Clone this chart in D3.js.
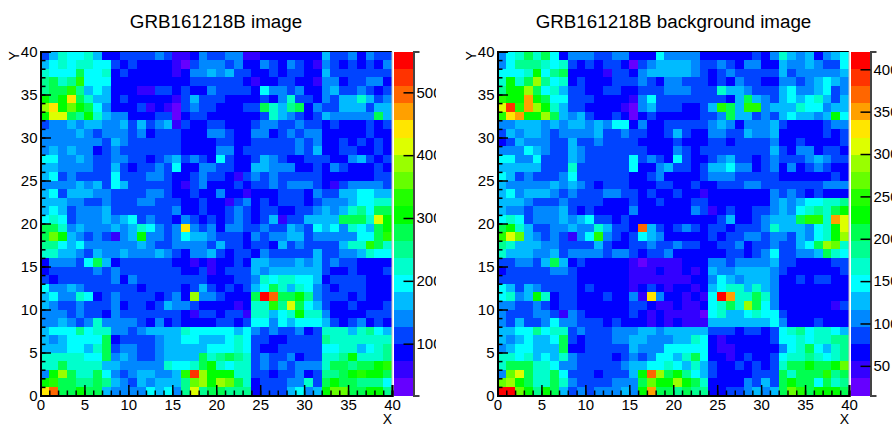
<!DOCTYPE html>
<html>
<head>
<meta charset="utf-8">
<script src="https://cdn.jsdelivr.net/npm/d3@7"></script>
<style>
  body { margin: 0; background: #fff; }
  svg { display: block; }
  text { font-family: "Liberation Sans", Arial, sans-serif; fill: #000; }
</style>
</head>
<body>
<div id="content"></div>
<script>
// counts per pixel, top row (Y bin 39) first
var imageRows = [
[113,168,223,195,195,223,168,86,86,113,113,113,113,141,113,59,59,86,141,113,113,141,141,59,59,86,86,86,86,86,86,86,168,113,113,141,86,141,113,113],
[168,195,223,195,223,223,195,195,113,86,113,86,86,86,86,59,31,113,141,141,141,113,141,86,86,141,113,86,141,113,86,59,141,113,86,113,86,113,86,141],
[223,195,195,195,278,195,195,223,86,113,86,86,86,86,86,59,86,141,141,168,141,168,113,113,86,86,113,86,113,113,86,86,168,113,113,113,113,113,113,113],
[250,278,223,250,332,195,195,195,86,86,86,86,86,86,86,86,86,113,113,113,113,113,113,86,59,86,86,113,113,86,86,59,141,141,86,113,113,141,141,86],
[250,278,278,332,250,168,195,168,86,86,86,59,59,113,113,86,113,86,86,141,113,113,113,113,86,195,141,141,113,141,86,86,141,168,113,113,141,113,86,113],
[305,278,305,442,278,223,168,168,86,113,86,86,86,86,86,59,113,168,113,113,113,86,86,86,86,113,86,141,223,113,113,86,141,113,168,168,223,168,113,141],
[387,442,305,360,305,278,195,141,86,86,86,113,59,86,59,31,113,141,113,113,86,86,86,113,113,278,223,168,250,278,86,141,113,113,168,168,168,113,168,168],
[305,415,415,278,250,305,223,168,141,141,86,86,86,113,113,31,86,113,113,86,86,86,86,86,86,113,223,168,141,113,86,113,168,141,141,141,141,141,278,168],
[113,141,141,168,141,168,168,141,141,168,113,168,113,141,168,59,113,86,86,113,113,86,86,86,113,141,141,113,113,141,113,113,86,113,86,86,86,113,86,113],
[141,141,141,141,168,141,113,141,141,141,113,141,86,113,113,113,86,86,86,141,141,113,86,86,141,141,86,113,141,113,141,141,86,86,86,86,86,113,86,86],
[141,141,141,141,141,141,141,113,168,141,113,113,113,113,113,113,86,86,86,86,113,113,86,86,113,113,113,113,113,141,113,141,86,86,113,86,113,86,113,86],
[141,168,141,168,141,141,86,113,141,113,113,113,113,113,113,113,86,86,86,86,141,141,86,113,113,113,113,113,113,141,113,168,86,86,113,113,86,86,113,86],
[195,195,141,141,168,141,113,113,141,141,113,113,86,113,141,168,113,141,113,86,195,113,86,86,113,168,141,113,86,86,113,113,113,86,86,141,168,113,86,113],
[168,168,141,141,141,141,113,113,168,113,86,113,113,141,113,195,86,86,141,141,113,113,86,86,168,168,141,141,141,86,86,113,86,141,113,86,86,86,113,86],
[168,195,113,141,113,113,113,113,195,113,113,113,141,141,113,86,86,113,141,113,113,86,59,113,141,113,141,113,113,113,113,113,86,86,86,86,86,86,113,113],
[141,141,141,141,168,141,168,113,195,168,113,113,113,113,113,86,59,113,141,86,86,86,113,86,113,113,141,113,141,141,141,113,86,59,113,141,141,141,141,113],
[168,195,113,168,168,168,141,141,113,113,113,113,141,141,113,86,86,113,86,86,141,86,86,59,86,86,86,113,113,113,86,141,113,113,168,168,195,195,168,168],
[168,168,168,141,141,113,113,141,113,113,113,141,141,113,113,113,86,86,113,86,86,59,113,141,86,113,86,113,113,113,86,113,141,141,141,168,195,195,223,223],
[168,195,168,113,141,141,141,168,113,113,113,113,113,113,113,141,86,86,113,86,86,113,141,113,86,113,113,86,86,113,113,141,168,141,168,223,250,195,278,278],
[195,223,195,113,141,141,141,168,141,168,195,113,141,113,113,86,141,113,86,113,86,113,141,113,86,113,168,59,113,113,168,168,168,168,278,278,278,223,415,305],
[278,278,223,141,168,141,141,141,168,141,168,223,195,141,113,141,442,141,113,141,86,141,141,113,113,141,113,113,168,141,113,195,168,195,141,223,195,168,278,305],
[278,360,305,168,141,113,141,113,59,141,168,305,141,141,113,141,195,168,168,141,113,113,113,86,141,113,141,141,168,168,113,141,141,141,141,141,195,195,278,332],
[250,250,195,168,195,141,141,141,141,141,141,168,141,113,113,141,141,141,141,113,168,113,113,86,113,113,86,168,113,141,113,113,113,113,168,223,223,332,278,223],
[223,223,168,168,141,113,168,141,141,168,141,141,141,168,141,113,86,141,141,168,113,86,113,113,86,141,113,113,113,113,113,168,113,113,141,141,168,223,195,195],
[86,141,141,141,113,195,278,168,86,113,113,113,113,113,113,86,86,59,86,59,86,86,113,86,168,168,141,141,141,168,141,168,113,141,113,113,86,86,86,86],
[86,113,113,113,113,113,141,113,141,113,113,113,113,113,113,113,86,86,113,59,86,113,113,113,168,141,168,168,168,168,168,168,113,86,86,113,86,86,86,113],
[113,86,113,113,113,113,113,113,141,86,141,113,113,113,113,113,113,113,113,86,86,86,113,113,141,223,195,223,223,195,195,168,86,113,113,113,113,86,86,86],
[195,141,141,168,141,113,113,113,113,113,113,86,113,113,113,113,86,113,168,113,86,113,86,113,168,195,278,223,168,223,195,141,113,86,113,113,113,86,86,86],
[168,195,141,141,223,195,86,113,141,113,113,113,113,86,113,141,86,387,141,141,113,86,86,86,278,552,497,278,278,305,250,141,113,113,113,86,113,86,86,86],
[168,141,113,113,141,113,113,113,141,86,113,113,86,113,168,141,141,113,86,86,86,86,59,86,223,223,332,250,415,278,195,168,113,86,86,113,86,86,86,113],
[141,141,141,113,141,113,113,86,141,113,113,113,113,113,113,113,86,59,113,113,86,113,113,59,223,223,168,195,223,305,223,223,141,86,86,86,86,113,113,113],
[141,141,168,141,113,141,223,141,141,141,141,113,86,141,86,113,86,86,86,86,113,113,86,113,195,195,141,195,168,195,195,195,168,113,86,113,141,86,113,86],
[168,195,195,195,250,195,223,223,141,141,113,141,168,168,168,168,223,195,195,195,195,195,168,195,141,113,141,113,113,141,86,113,223,223,223,168,223,250,195,168],
[168,141,168,195,195,195,195,278,86,113,113,113,113,141,168,168,195,195,168,168,168,195,223,195,113,113,86,86,113,113,113,113,250,223,223,223,223,223,223,223],
[168,168,168,195,195,168,223,278,113,141,141,113,113,141,168,168,168,168,168,195,195,195,223,195,113,86,86,113,113,113,113,113,195,195,223,223,168,195,223,250],
[223,223,223,223,223,195,195,278,141,168,141,113,113,141,168,168,168,168,278,223,250,278,250,223,113,141,113,113,141,86,113,113,223,223,250,305,223,223,223,250],
[223,223,278,223,223,223,223,168,168,141,141,141,141,141,223,195,195,223,278,305,223,195,223,223,113,141,113,141,113,141,141,141,223,278,278,250,278,278,305,332],
[141,305,387,278,223,223,278,195,141,113,141,168,168,141,141,168,332,524,387,305,305,305,223,223,113,113,86,113,113,141,86,113,250,250,278,305,332,305,305,278],
[305,332,278,278,250,250,278,250,168,141,113,168,141,168,168,168,250,360,387,305,387,360,278,223,86,113,113,113,141,141,223,113,278,305,278,278,250,250,250,195],
[442,497,278,278,305,278,278,168,141,141,141,141,195,168,195,141,250,415,250,278,278,250,250,250,86,113,113,113,168,195,141,168,305,360,360,278,278,305,305,250]
];

var backgroundRows = [
[106,147,167,208,167,208,147,66,106,106,106,86,86,106,106,66,66,66,147,106,106,106,106,66,66,66,66,66,66,86,66,106,167,127,106,127,66,106,127,147],
[106,147,188,188,188,167,147,167,86,66,86,66,86,86,66,25,86,106,127,127,127,127,106,86,86,106,86,66,106,106,66,66,127,106,106,127,106,86,86,147],
[147,147,147,167,228,147,188,208,66,66,66,66,46,86,86,66,106,127,127,127,127,127,106,86,66,86,106,86,86,86,86,86,127,86,106,106,106,106,106,127],
[167,228,167,208,289,188,147,167,66,86,66,66,66,86,86,86,106,86,66,106,106,86,86,86,66,86,66,106,86,86,66,66,106,106,86,106,127,147,127,106],
[188,228,228,289,208,147,167,127,86,86,66,66,86,86,66,66,86,86,86,106,106,106,86,86,86,167,127,127,106,86,86,86,127,147,106,106,127,147,86,106],
[248,228,228,350,228,208,147,147,86,86,86,66,66,66,66,46,106,147,86,86,86,86,86,86,86,86,66,127,208,127,106,86,127,147,127,147,167,127,86,127],
[309,391,248,350,289,228,167,127,86,86,66,66,66,66,46,25,106,127,86,86,86,66,66,86,127,248,208,127,248,248,106,127,127,127,167,147,147,106,127,127],
[248,330,350,228,228,289,208,127,106,127,86,66,66,86,66,25,66,86,66,66,66,66,66,86,86,106,208,127,127,86,106,86,127,147,127,127,106,127,228,147],
[106,106,127,127,127,106,127,106,127,127,106,127,106,147,147,66,106,66,66,86,86,86,86,86,106,127,106,66,106,106,106,127,86,66,66,66,66,86,106,106],
[86,127,106,127,127,106,86,106,106,106,106,127,86,86,106,86,86,66,66,86,127,86,66,66,106,106,86,86,127,106,106,127,66,66,66,66,66,86,66,86],
[66,86,127,106,106,106,86,86,127,86,86,106,86,86,86,86,66,66,66,66,86,66,66,66,86,86,66,86,86,86,86,106,66,66,86,66,66,66,66,86],
[106,106,106,147,127,106,86,86,127,106,86,86,86,86,86,86,86,66,66,66,106,86,66,86,86,86,86,86,86,86,86,127,86,66,106,106,66,86,86,66],
[147,147,106,106,147,86,86,86,127,106,86,86,86,86,86,147,86,106,86,66,147,86,66,66,86,106,127,86,86,66,86,106,86,86,86,106,127,106,86,86],
[127,127,127,127,127,86,86,86,167,86,86,86,86,86,86,147,66,66,106,127,86,86,66,86,127,127,147,106,106,66,86,106,66,106,66,86,106,86,66,66],
[147,127,86,106,86,86,86,106,147,86,86,86,86,86,86,66,66,86,106,66,66,66,66,86,106,106,106,86,86,86,86,86,66,66,66,66,66,66,86,66],
[127,106,106,106,106,106,127,106,127,106,86,66,86,86,86,66,66,66,86,86,66,66,86,66,66,86,86,86,106,106,86,86,86,86,86,86,86,106,106,106],
[127,147,106,127,127,127,106,86,106,86,86,86,106,106,86,86,66,86,66,66,86,66,66,46,66,66,66,66,66,66,66,106,86,106,86,66,86,66,66,66],
[127,127,127,106,86,86,86,106,86,86,86,86,66,66,66,86,66,66,86,66,66,66,86,86,66,66,66,66,66,66,66,106,127,106,127,147,147,167,167,188],
[127,106,106,86,106,106,106,127,86,66,86,66,66,66,66,106,66,66,66,66,66,66,106,86,46,66,86,66,66,86,86,106,127,106,147,167,188,167,208,228],
[147,167,147,86,106,106,106,127,106,127,147,86,86,66,86,66,66,66,66,66,66,66,66,66,66,86,127,66,66,86,106,127,127,127,208,248,248,167,350,309],
[208,228,167,127,86,86,106,106,127,106,106,167,127,86,86,66,370,127,86,66,86,106,86,66,86,86,66,86,86,86,106,167,127,127,127,106,147,167,228,309],
[248,309,269,127,106,86,106,86,46,106,147,248,106,86,66,86,147,127,106,66,66,66,66,66,86,66,86,86,106,106,86,106,106,86,127,106,147,167,228,289],
[188,167,127,127,127,106,106,86,86,86,86,127,86,66,66,86,86,106,86,86,106,86,86,66,66,86,86,106,66,86,86,106,86,86,127,147,208,289,269,167],
[167,127,127,127,106,106,127,86,106,106,106,106,86,106,106,86,66,86,86,106,66,66,66,66,66,66,86,86,66,86,106,147,86,86,106,106,127,208,167,147],
[86,86,106,106,86,127,208,127,66,86,66,66,66,66,66,46,25,46,46,46,46,66,66,66,106,106,86,106,106,106,106,127,86,86,66,66,66,66,86,86],
[66,86,86,86,86,86,106,106,86,66,66,66,66,66,66,46,46,46,66,46,46,66,46,66,127,106,106,127,127,127,127,106,86,66,66,66,66,66,66,86],
[86,86,86,86,86,86,86,86,86,66,66,66,66,66,66,46,46,46,46,46,46,46,66,66,106,147,127,106,127,127,127,106,66,66,86,66,86,86,66,66],
[147,127,86,127,106,86,86,86,86,66,86,66,66,66,66,46,66,86,66,46,66,66,46,66,127,147,167,167,127,167,127,106,66,66,66,66,66,66,66,66],
[147,167,106,127,228,167,66,86,86,66,66,66,86,66,66,106,46,330,106,66,66,46,66,46,147,411,350,167,167,208,167,106,66,66,66,66,66,66,66,66],
[106,106,86,86,106,86,66,86,86,66,66,66,66,66,66,86,86,66,46,46,66,46,46,66,147,167,208,167,289,208,147,106,66,66,66,66,66,66,46,86],
[106,86,86,86,106,106,86,46,106,86,66,66,66,66,66,86,66,46,66,46,46,46,46,25,147,167,127,127,147,167,147,147,86,66,66,66,66,66,66,66],
[106,86,127,86,86,106,147,106,106,86,86,86,66,86,66,66,66,46,66,46,66,46,46,46,127,127,127,127,127,127,127,147,106,66,66,66,86,66,66,66],
[127,127,147,147,188,147,167,167,86,106,86,86,86,106,106,106,127,127,106,127,127,127,127,127,86,86,86,66,86,86,66,86,147,167,188,147,167,167,147,127],
[127,106,127,147,127,127,147,208,86,66,86,86,86,106,106,127,127,106,106,106,127,127,167,147,66,46,66,66,66,66,66,86,147,147,167,147,167,167,188,188],
[106,127,147,147,127,127,127,208,66,66,86,86,86,86,86,127,106,106,106,147,147,147,147,147,66,46,46,66,66,66,66,66,106,147,167,208,147,127,167,188],
[167,167,147,167,127,147,127,167,106,86,86,86,86,66,86,106,86,106,147,147,127,167,208,147,66,66,46,66,86,66,66,86,147,167,167,188,167,147,167,188],
[167,208,208,208,167,167,147,106,106,86,86,86,86,86,106,127,127,147,147,167,147,127,167,127,86,66,66,86,66,86,66,86,167,208,208,228,208,208,228,269],
[106,269,309,208,167,167,208,147,86,86,86,66,86,86,86,127,228,370,289,208,228,188,147,127,86,66,66,66,66,86,86,86,208,167,208,208,208,248,188,208],
[269,289,228,208,167,167,208,167,106,86,86,86,86,106,106,106,208,269,228,228,289,228,208,167,66,66,66,66,106,86,127,86,208,228,208,208,147,208,167,188],
[411,411,269,228,188,228,208,127,86,106,86,106,106,106,127,106,228,350,208,208,188,208,188,188,66,66,86,86,106,127,106,127,208,269,248,208,228,228,228,208]
];

// colour bands of the palette, lowest first
var palette = ["#6600ff","#3300ff","#0000ff","#0044ff","#0088ff","#00bbff","#00ffff","#00ffcc","#00ff90","#00ff50",
               "#00ff00","#22ff00","#66ff00","#99ff00","#ddff00","#ffe600","#ffa000","#ff6600","#ff3300","#ff0000"];

var axisTicks = [0, 5, 10, 15, 20, 25, 30, 35, 40],
    axisMinorTicks = d3.range(0, 41),
    imageBarTicks = [100, 200, 300, 400, 500],
    backgroundBarTicks = [50, 100, 150, 200, 250, 300, 350, 400];

var svg = d3.select("#content").append("svg")
            .attr("width", 896)
            .attr("height", 426);

function _drawPanel(panel) {
  var top = 51.5, bottom = 395.5,
      x = d3.scaleLinear().domain([0, 40]).range([panel.left, panel.right]),
      y = d3.scaleLinear().domain([0, 40]).range([bottom, top]),
      z = d3.scaleLinear().domain(panel.zRange).range([bottom, top]),
      color = d3.scaleQuantize().domain(panel.zRange).range(palette),
      g = svg.append("g");

  g.append("text")
   .attr("x", panel.titleX)
   .attr("y", 28)
   .attr("text-anchor", "middle")
   .style("font-size", "18.8px")
   .text(panel.title);

  panel.rows.forEach(function (row, i) {
    g.append("g").selectAll("rect").data(row).enter()
     .append("rect")
     .attr("x", function (d, j) { return x(j); })
     .attr("y", y(40 - i))
     .attr("width", function (d, j) { return x(j + 1) - x(j); })
     .attr("height", y(39 - i) - y(40 - i))
     .attr("fill", function (d) { return color(d); })
     .attr("shape-rendering", "crispEdges");
  });

  // colour bar
  var step = (panel.zRange[1] - panel.zRange[0]) / palette.length;
  g.append("g").selectAll("rect").data(palette).enter()
   .append("rect")
   .attr("x", panel.right + 2)
   .attr("width", 19.5)
   .attr("y", function (d, i) { return z(panel.zRange[0] + (i + 1) * step); })
   .attr("height", function (d, i) { return z(panel.zRange[0] + i * step) - z(panel.zRange[0] + (i + 1) * step); })
   .attr("fill", function (d) { return d; })
   .attr("shape-rendering", "crispEdges");

  // the tick labels of the bar run off the pad and get cut there
  var clipId = "clip" + panel.id;
  g.append("clipPath").attr("id", clipId)
   .append("rect").attr("x", panel.right + 2).attr("y", 0)
   .attr("width", panel.clipWidth).attr("height", 426);

  var bar = g.append("g")
             .attr("clip-path", "url(#" + clipId + ")")
             .append("g")
             .attr("transform", "translate(" + (panel.right + 21.5) + ",0)")
             .call(d3.axisRight(z).tickValues(panel.barTicks).tickFormat(d3.format("d")));
  bar.select(".domain").attr("stroke", "#444").attr("stroke-width", 2);
  bar.selectAll("text").style("font-size", "15px").attr("x", 3);
  bar.selectAll("line").attr("stroke", "#000").attr("stroke-width", 1.5).attr("x1", -10).attr("x2", 0);

  // frame and axes, ticks pointing inwards like ROOT does
  g.append("path")
   .attr("d", "M" + panel.left + "," + top + "H" + panel.right)
   .attr("fill", "none").attr("stroke", "#000").attr("stroke-width", 1.2);
  g.append("path")
   .attr("d", "M" + panel.right + "," + top + "V" + bottom)
   .attr("fill", "none").attr("stroke", "#bbb").attr("stroke-width", 1);

  var xMinor = g.append("g").attr("transform", "translate(0," + bottom + ")")
                .call(d3.axisBottom(x).tickValues(axisMinorTicks).tickSize(-5).tickFormat(""));
  var yMinor = g.append("g").attr("transform", "translate(" + panel.left + ",0)")
                .call(d3.axisLeft(y).tickValues(axisMinorTicks).tickSize(-5).tickFormat(""));
  var xAxis = g.append("g").attr("transform", "translate(0," + bottom + ")")
               .call(d3.axisBottom(x).tickValues(axisTicks).tickSize(-10.5));
  var yAxis = g.append("g").attr("transform", "translate(" + panel.left + ",0)")
               .call(d3.axisLeft(y).tickValues(axisTicks).tickSize(-10.5));

  [xMinor, yMinor, xAxis, yAxis].forEach(function (axis) {
    axis.select(".domain").attr("stroke", "#000").attr("stroke-width", 2);
    axis.selectAll("line").attr("stroke", "#000").attr("stroke-width", 1.5);
  });
  xAxis.selectAll("text").style("font-size", "15px").attr("y", 14).attr("dy", 0);
  yAxis.selectAll("text").style("font-size", "15px").attr("x", -3);

  g.append("text")
   .attr("x", panel.right)
   .attr("y", 424)
   .attr("text-anchor", "end")
   .style("font-size", "14px")
   .text("X");

  g.append("text")
   .attr("transform", "translate(" + (panel.left - 22) + ",60.5) rotate(-90)")
   .style("font-size", "14px")
   .text("Y");
}

_drawPanel({
  id: 1, title: "GRB161218B image", titleX: 216, rows: imageRows,
  left: 40.5, right: 392, zRange: [17.5, 565], barTicks: imageBarTicks, clipWidth: 42
});

_drawPanel({
  id: 2, title: "GRB161218B background image", titleX: 673.5, rows: backgroundRows,
  left: 497.5, right: 849, zRange: [15, 421], barTicks: backgroundBarTicks, clipWidth: 41
});
</script>
</body>
</html>
